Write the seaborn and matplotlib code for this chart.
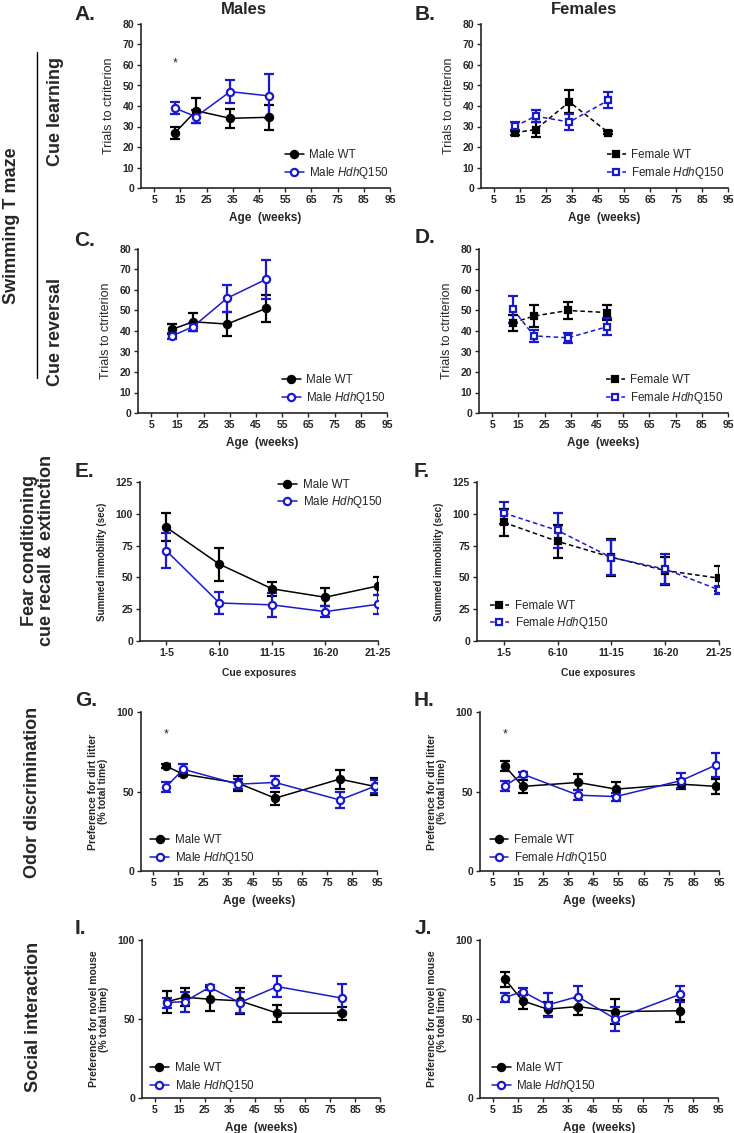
import numpy as np
import matplotlib as mpl
import matplotlib.pyplot as plt
plt.switch_backend('Agg')
import seaborn as sns
from matplotlib.lines import Line2D

# ---- values (mean and SEM) ----
# Swimming T maze - cue learning
learn_age = [13, 21, 34, 49]
learn_m_wt = [27, 37.7, 34, 34.5]
learn_m_wt_sem = [2.9, 6, 4.7, 6]
learn_m_q = [38.9, 34.8, 47, 44.9]
learn_m_q_sem = [3, 3.3, 5.7, 10.7]
learn_f_wt = [27, 28.5, 42, 27]
learn_f_wt_sem = [1.0, 3.5, 5.6, 0.8]
learn_f_q = [30.1, 35, 32.2, 42.8]
learn_f_q_sem = [2, 3, 4, 4]

# Swimming T maze - cue reversal
rev_age = [13, 21, 34, 49]
rev_m_wt = [40.8, 44.5, 43.4, 51.1]
rev_m_wt_sem = [2.4, 4.4, 6, 6.5]
rev_m_q = [37.6, 42.1, 56, 65.3]
rev_m_q_sem = [1.5, 2, 6.5, 9.5]
rev_f_wt = [44.1, 47.3, 50, 49]
rev_f_wt_sem = [3.9, 5.4, 4, 3.8]
rev_f_q = [50.6, 37.6, 36.7, 42.1]
rev_f_q_sem = [6.5, 2.9, 2.5, 4]

# Fear conditioning
cue_blocks = ["1-5", "6-10", "11-15", "16-20", "21-25"]
fear_m_wt = [89.3, 60.4, 41, 34.4, 43.3]
fear_m_wt_sem = [11, 13, 5.7, 7, 7.4]
fear_m_q = [70.9, 29.9, 28.4, 23.1, 28.9]
fear_m_q_sem = [13.8, 8.5, 9.5, 4.5, 7.4]
fear_f_wt = [93.2, 78.3, 65.9, 55.4, 49.4]
fear_f_wt_sem = [10.5, 13, 14.5, 11, 9.7]
fear_f_q = [100.6, 86.9, 65.6, 56.5, 40.2]
fear_f_q_sem = [8.4, 13.7, 14, 12, 3]

# Odor discrimination
odor_age = [10, 17, 39, 54, 80, 94]
odor_m_wt = [66, 60.9, 55.3, 45.8, 57.8, 53.2]
odor_m_wt_sem = [1, 1, 4.7, 4, 6, 5.5]
odor_m_q = [52.7, 64, 54.6, 55.7, 44.7, 53.2]
odor_m_q_sem = [3, 3.4, 3, 3.8, 5.3, 4]
odor_f_wt = [65.8, 53.2, 55.7, 51.5, 54.6, 53.2]
odor_f_wt_sem = [3.2, 4, 5, 4.5, 3, 4.6]
odor_f_q = [53.6, 60.9, 47.7, 46.8, 56.9, 66.8]
odor_f_q_sem = [3, 1.5, 3, 2.5, 5, 7.4]

# Social interaction
soc_age = [10, 17, 27, 39, 54, 80]
soc_m_wt = [61, 63.8, 62.5, 61.5, 53.7, 53.7]
soc_m_wt_sem = [7, 5.7, 7.5, 8.4, 5.3, 4.2]
soc_m_q = [60.4, 61, 70.1, 60.4, 70.5, 63.2]
soc_m_q_sem = [3.2, 6.3, 1.5, 6.8, 6.5, 9]
soc_f_wt = [75.2, 61.5, 56.2, 57.9, 54.7, 55.2]
soc_f_wt_sem = [4.7, 5.3, 4.5, 5.5, 8, 6.8]
soc_f_q = [63.6, 67.4, 58.9, 64.2, 50.1, 65.7]
soc_f_q_sem = [3, 2.5, 7.4, 7, 7.6, 5]

age_ticks = [5, 15, 25, 35, 45, 55, 65, 75, 85, 95]

sns.set_style("ticks")
plt.rcParams['font.family'] = ['Liberation Sans', 'DejaVu Sans']
plt.rcParams['mathtext.fontset'] = 'custom'
plt.rcParams['mathtext.rm'] = 'Liberation Sans'
plt.rcParams['mathtext.it'] = 'Liberation Sans:italic'

W, H = 734, 1133
fig = plt.figure(figsize=(W / 100, H / 100), dpi=100)

BLUE = "#1a1acc"
Q150 = r"$\it{Hdh}$Q150"


def add_ax(left, top, right, bottom):
    return fig.add_axes([left / W, 1 - bottom / H, (right - left) / W, (bottom - top) / H])


def series(ax, x, y, sem, color, marker, dashed, filled, label):
    ls = (0, (3, 2)) if dashed else "-"
    ax.errorbar(x, y, yerr=sem, fmt="none", ecolor=color, elinewidth=1.6,
                capsize=3.5, capthick=1.6, zorder=2)
    sns.lineplot(x=x, y=y, ax=ax, color=color, linestyle=ls, linewidth=1.1,
                 marker=marker, markersize=5.2 if marker == "o" else 5,
                 markerfacecolor=color if filled else "white",
                 markeredgecolor=color, markeredgewidth=1.6,
                 label=label, zorder=3)


def style(ax, ylim, yticks, ylabel, ylabsize, ybold, ylabpad):
    sns.despine(ax=ax)
    for s in ["left", "bottom"]:
        ax.spines[s].set_linewidth(1.2)
    ax.set_ylim(*ylim)
    ax.set_yticks(yticks)
    ax.tick_params(direction="out", length=3, width=1, labelsize=7.5, pad=2)
    for lab in ax.get_xticklabels() + ax.get_yticklabels():
        lab.set_fontweight("bold")
    ax.set_ylabel(ylabel, fontsize=ylabsize, fontweight="bold" if ybold else "normal",
                  labelpad=ylabpad, linespacing=1.0)


def age_axis(ax):
    ax.set_xlim(0, 95)
    ax.set_xticks(age_ticks)
    ax.set_xlabel("Age  (weeks)", fontsize=8.5, fontweight="bold", labelpad=5)


def legend(ax, x, y):
    ax.legend(loc="upper left", bbox_to_anchor=(x, y), frameon=False, fontsize=8.4,
              borderpad=0, borderaxespad=0, handlelength=1.6, handletextpad=0.5,
              labelspacing=0.3)


# ---- A: male cue learning
ax = add_ax(141, 24, 390, 188)
series(ax, learn_age, learn_m_wt, learn_m_wt_sem, "black", "o", False, True, "Male WT")
series(ax, learn_age, learn_m_q, learn_m_q_sem, BLUE, "o", False, False, "Male " + Q150)
age_axis(ax)
style(ax, (0, 80), range(0, 81, 10), "Trials to ctriterion", 9, False, 5)
ax.text(13, 61, "*", ha="center", va="center", fontsize=9)
legend(ax, 0.578, 0.235)

# ---- B: female cue learning
ax = add_ax(481, 24, 728, 188)
series(ax, learn_age, learn_f_wt, learn_f_wt_sem, "black", "s", True, True, "Female WT")
series(ax, learn_age, learn_f_q, learn_f_q_sem, BLUE, "s", True, False, "Female " + Q150)
age_axis(ax)
style(ax, (0, 80), range(0, 81, 10), "Trials to ctriterion", 9, False, 5)
legend(ax, 0.51, 0.235)

# ---- C: male cue reversal
ax = add_ax(138, 249, 387, 413)
series(ax, rev_age, rev_m_wt, rev_m_wt_sem, "black", "o", False, True, "Male WT")
series(ax, rev_age, rev_m_q, rev_m_q_sem, BLUE, "o", False, False, "Male " + Q150)
age_axis(ax)
style(ax, (0, 80), range(0, 81, 10), "Trials to ctriterion", 9, False, 5)
legend(ax, 0.578, 0.235)

# ---- D: female cue reversal
ax = add_ax(479, 249, 728, 413)
series(ax, rev_age, rev_f_wt, rev_f_wt_sem, "black", "s", True, True, "Female WT")
series(ax, rev_age, rev_f_q, rev_f_q_sem, BLUE, "s", True, False, "Female " + Q150)
age_axis(ax)
style(ax, (0, 80), range(0, 81, 10), "Trials to ctriterion", 9, False, 5)
legend(ax, 0.51, 0.235)

# ---- E / F: fear conditioning
pos = np.arange(len(cue_blocks))
ax = add_ax(140, 482, 378, 641)
series(ax, pos, fear_m_wt, fear_m_wt_sem, "black", "o", False, True, "Male WT")
series(ax, pos, fear_m_q, fear_m_q_sem, BLUE, "o", False, False, "Male " + Q150)
style(ax, (0, 125), range(0, 126, 25), "Summed immobility (sec)", 7, True, 6)
ax.set_xlim(-0.5, len(cue_blocks) - 1)
ax.set_xticks(pos, cue_blocks, fontweight="bold")
ax.set_xlabel("Cue exposures", fontsize=7.5, fontweight="bold", labelpad=7)
legend(ax, 0.58, 1.02)

ax = add_ax(477, 482, 719, 641)
series(ax, pos, fear_f_wt, fear_f_wt_sem, "black", "s", True, True, "Female WT")
series(ax, pos, fear_f_q, fear_f_q_sem, BLUE, "s", True, False, "Female " + Q150)
style(ax, (0, 125), range(0, 126, 25), "Summed immobility (sec)", 7, True, 6)
ax.set_xlim(-0.5, len(cue_blocks) - 1)
ax.set_xticks(pos, cue_blocks, fontweight="bold")
ax.set_xlabel("Cue exposures", fontsize=7.5, fontweight="bold", labelpad=7)
legend(ax, 0.054, 0.26)

# ---- G / H: odor discrimination
ax = add_ax(141, 712, 377, 871)
series(ax, odor_age, odor_m_wt, odor_m_wt_sem, "black", "o", False, True, "Male WT")
series(ax, odor_age, odor_m_q, odor_m_q_sem, BLUE, "o", False, False, "Male " + Q150)
age_axis(ax)
style(ax, (0, 100), [0, 50, 100], "Preference for dirt litter\n(% total time)", 7.5, True, 6)
ax.text(10, 85.7, "*", ha="center", va="center", fontsize=9)
legend(ax, 0.04, 0.23)

ax = add_ax(480, 712, 719, 871)
series(ax, odor_age, odor_f_wt, odor_f_wt_sem, "black", "o", False, True, "Female WT")
series(ax, odor_age, odor_f_q, odor_f_q_sem, BLUE, "o", False, False, "Female " + Q150)
age_axis(ax)
style(ax, (0, 100), [0, 50, 100], "Preference for dirt litter\n(% total time)", 7.5, True, 6)
ax.text(10, 85.7, "*", ha="center", va="center", fontsize=9)
legend(ax, 0.04, 0.23)

# ---- I / J: social interaction
ax = add_ax(142, 940, 380, 1098)
series(ax, soc_age, soc_m_wt, soc_m_wt_sem, "black", "o", False, True, "Male WT")
series(ax, soc_age, soc_m_q, soc_m_q_sem, BLUE, "o", False, False, "Male " + Q150)
age_axis(ax)
style(ax, (0, 100), [0, 50, 100], "Preference for novel mouse\n(% total time)", 7.5, True, 6)
legend(ax, 0.034, 0.225)

ax = add_ax(480, 940, 718, 1098)
series(ax, soc_age, soc_f_wt, soc_f_wt_sem, "black", "o", False, True, "Male WT")
series(ax, soc_age, soc_f_q, soc_f_q_sem, BLUE, "o", False, False, "Male " + Q150)
age_axis(ax)
style(ax, (0, 100), [0, 50, 100], "Preference for novel mouse\n(% total time)", 7.5, True, 6)
legend(ax, 0.05, 0.225)


# ---- figure annotations
def ftext(x, y, s, **kw):
    fig.text(x / W, 1 - y / H, s, ha="center", va="center", **kw)


ftext(244, 9, "Males", fontsize=12, fontweight="bold")
ftext(584, 9, "Females", fontsize=12, fontweight="bold")
for letter, x, y in [("A.", 85, 14), ("B.", 425, 14), ("C.", 85, 241), ("D.", 425, 238),
                     ("E.", 84, 471), ("F.", 422, 471), ("G.", 86, 701), ("H.", 424, 701),
                     ("I.", 80, 928), ("J.", 423, 928)]:
    ftext(x, y, letter, fontsize=15, fontweight="bold")

ftext(12, 226, "Swimming T maze", fontsize=13, fontweight="bold", rotation=90)
ftext(55, 112, "Cue learning", fontsize=13, fontweight="bold", rotation=90)
ftext(55, 332, "Cue reversal", fontsize=13, fontweight="bold", rotation=90)
ftext(38, 551, "Fear conditioning\ncue recall & extinction", fontsize=13,
      fontweight="bold", rotation=90, linespacing=1.0)
ftext(33, 792, "Odor discrimination", fontsize=13, fontweight="bold", rotation=90)
ftext(34, 1017, "Social interaction", fontsize=13, fontweight="bold", rotation=90)
fig.add_artist(Line2D([37 / W, 37 / W], [1 - 52 / H, 1 - 378 / H], color="black", lw=1))

fig.savefig("out.png", dpi=100)
